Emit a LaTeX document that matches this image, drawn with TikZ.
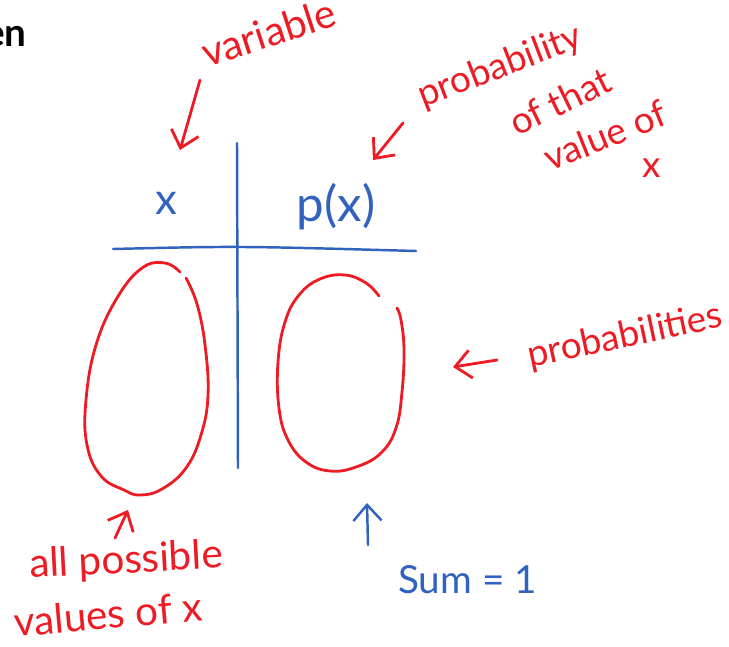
\documentclass[tikz,border=0pt]{standalone}
\usepackage{fontspec}
\setmainfont{Lato}
\usetikzlibrary{arrows.meta, positioning}
\definecolor{inkred}{RGB}{237,28,36}
\definecolor{inkblue}{RGB}{48,98,190}
\tikzset{
  redink/.style={draw=inkred, line width=1.6pt, line cap=round, line join=round},
  blueink/.style={draw=inkblue, line width=1.4pt, line cap=round, line join=round},
  note/.style={text=inkred, font=\fontsize{23}{26}\selectfont, inner sep=0pt},
  smallnote/.style={note, font=\fontsize{21}{24}\selectfont},
  bluenote/.style={text=inkblue, font=\fontsize{22}{26}\selectfont, inner sep=0pt},
  barb/.style={-{Straight Barb[length=9pt, width=16pt]}}
}

\begin{document}
\begin{tikzpicture}[x=0.02cm, y=-0.02cm]
  \useasboundingbox (0,0) rectangle (729,646);

  % table
  \coordinate (vtop) at (237,143);
  \coordinate (vbot) at (238,468);
  \coordinate (hleft) at (113,249);
  \coordinate (hright) at (416,251);
  \draw[blueink] (vtop) -- (vbot);
  \draw[blueink] (hleft) .. controls (237,246) .. (hright);

  \node[bluenote, font=\fontsize{25}{28}\selectfont] (xhead) at (166,203) {x};
  \node[bluenote, font=\fontsize{28}{32}\selectfont, anchor=base] (pxhead) at (336,221) {p(x)};

  % red ovals
  \draw[redink] plot[smooth, tension=0.7] coordinates {
    (180,272) (165,263) (142,268) (117,298) (96,345) (86,400) (87,445)
    (101,476) (124,490) (140,495) (162,489) (186,468) (201,435) (208,395)
    (205,345) (197,304) (186,278)};
  \draw[redink] plot[smooth, tension=0.7] coordinates {
    (379,296) (366,283) (345,275) (320,279) (299,295) (285,322) (278,362)
    (279,408) (288,440) (306,462) (330,471) (356,467) (381,453) (396,428)
    (402,392) (404,350) (401,320) (397,308)};

  % labels
  \node[note, rotate=18, anchor=base west] (varlabel) at (207,68) {variable};
  \coordinate (vartail) at (200,80);
  \coordinate (vartip) at (180,150);
  \draw[redink, barb] (vartail) -- (vartip);

  \node[smallnote, rotate=21, anchor=base west] (problabel) at (423,108) {probability};
  \node[smallnote, rotate=26, anchor=base west] (thatlabel) at (517,137) {of that};
  \node[smallnote, rotate=22, anchor=base west] (valuelabel) at (550,172) {value of};
  \node[smallnote] (xlabel) at (652,168) {x};
  \coordinate (probtail) at (403,123);
  \coordinate (probtip) at (373,160);
  \draw[redink, barb] (probtail) -- (probtip);

  \node[smallnote, rotate=12, anchor=base west] (probslabel) at (530,368) {probabilities};
  \coordinate (probstail) at (497,360);
  \coordinate (probstip) at (453,367);
  \draw[redink, barb] (probstail) -- (probstip);

  \node[note, rotate=3, anchor=base west] (alllabel) at (30,578) {all possible};
  \node[note, rotate=5, anchor=base west] (valueslabel) at (15,637) {values of x};
  \coordinate (alltail) at (115,538);
  \coordinate (alltip) at (128,510);
  \draw[redink, barb] (alltail) -- (alltip);

  \node[bluenote, anchor=base west] (sumlabel) at (398,593) {Sum = 1};
  \coordinate (sumtail) at (368,545);
  \coordinate (sumtip) at (367,503);
  \draw[blueink, barb] (sumtail) -- (sumtip);

  \node[font=\fontsize{22}{26}\selectfont\bfseries, anchor=base east, inner sep=0pt] (cutword) at (27,46) {en};
\end{tikzpicture}
\end{document}
